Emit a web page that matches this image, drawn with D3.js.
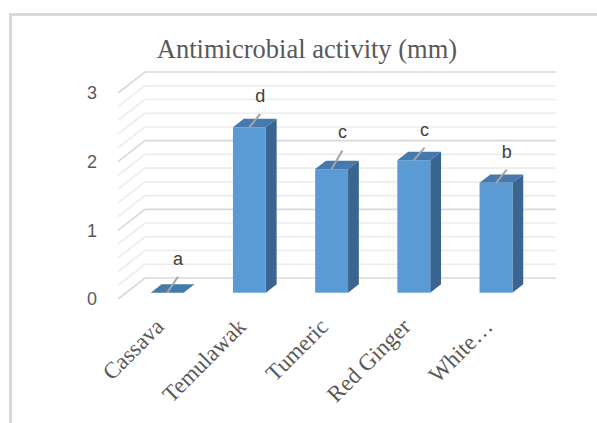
<!DOCTYPE html>
<html>
<head>
<meta charset="utf-8">
<script src="https://cdn.jsdelivr.net/npm/d3@7"></script>
<style>
  html, body { margin: 0; padding: 0; background: #fff; }
</style>
</head>
<body>
<div id="chart"></div>
<script>
// chart data
const categories = ["Cassava", "Temulawak", "Tumeric", "Red Ginger", "White…"];
const values = [0, 2.41, 1.8, 1.93, 1.6];
const errors = [0.11, 0.07, 0.15, 0.06, 0.07];
const letters = ["a", "d", "c", "c", "b"];
const yTicks = [0, 1, 2, 3];
const title = "Antimicrobial activity (mm)";

const width = 597, height = 423;
const depthX = -27, depthY = 21;   // offset from back wall to front plane
const barBack = 0.3, barFront = 0.7; // bar depth position (fraction)

let svg = d3.select("#chart").append("svg")
    .attr("width", width)
    .attr("height", height);

// outer frame (only left and top visible)
svg.append("path")
    .attr("d", "M10.5," + height + "V14.5H" + width)
    .attr("fill", "none")
    .attr("stroke", "#d9d9d9")
    .attr("stroke-width", 3);

svg.append("text")
    .attr("x", 307)
    .attr("y", 58)
    .attr("text-anchor", "middle")
    .style("font-family", "'Liberation Serif', 'Times New Roman', serif")
    .style("font-size", "26.5px")
    .style("fill", "#595959")
    .text(title);

// back wall scales
let x = d3.scaleBand()
    .domain(categories)
    .range([145, 556])
    .paddingInner(0.6)
    .paddingOuter(0.3);

let y = d3.scaleLinear()
    .domain([0, 3])
    .range([278, 72]);

function proj(px, py, f) {
    return [px + depthX * f, py + depthY * f];
}

// gridlines, every 0.2
let grid = d3.range(0, 3.001, 0.2);
let g = svg.append("g");
grid.forEach(function (v, i) {
    let major = i % 5 === 0;
    let col = major ? "#d9d9d9" : "#ececec";
    let yy = y(v);
    g.append("line")
        .attr("x1", 145).attr("x2", 556)
        .attr("y1", yy).attr("y2", yy)
        .attr("stroke", col).attr("stroke-width", 1.6);
    let p = proj(145, yy, 1);
    g.append("line")
        .attr("x1", p[0]).attr("y1", p[1])
        .attr("x2", 145).attr("y2", yy)
        .attr("stroke", col).attr("stroke-width", 1.6);
});

// y tick labels on the front plane
svg.selectAll(".ytick")
    .data(yTicks)
    .enter()
    .append("text")
    .attr("class", "ytick")
    .attr("x", 97)
    .attr("y", function (d) { return proj(0, y(d), 1)[1]; })
    .attr("dy", "0.35em")
    .attr("text-anchor", "end")
    .style("font-family", "'Liberation Sans', Arial, sans-serif")
    .style("font-size", "18px")
    .style("fill", "#595959")
    .text(function (d) { return d; });

// 3d bars
let bars = svg.selectAll(".bar")
    .data(categories)
    .enter()
    .append("g")
    .attr("class", "bar");

function poly(pts) {
    return "M" + pts.map(function (p) { return p[0] + "," + p[1]; }).join("L") + "Z";
}

bars.each(function (c, i) {
    let sel = d3.select(this);
    let x0 = x(c), x1 = x(c) + x.bandwidth();
    let yTop = y(values[i]), yBot = y(0);
    // side face
    sel.append("path")
        .attr("d", poly([proj(x1, yTop, barFront), proj(x1, yTop, barBack),
                         proj(x1, yBot, barBack), proj(x1, yBot, barFront)]))
        .attr("fill", "#3a6591");
    // top face
    sel.append("path")
        .attr("d", poly([proj(x0, yTop, barFront), proj(x0, yTop, barBack),
                         proj(x1, yTop, barBack), proj(x1, yTop, barFront)]))
        .attr("fill", "#4679ad");
    // front face
    if (values[i] > 0) {
        let a = proj(x0, yTop, barFront), b = proj(x1, yBot, barFront);
        sel.append("rect")
            .attr("x", a[0]).attr("y", a[1])
            .attr("width", b[0] - a[0]).attr("height", b[1] - a[1])
            .attr("fill", "#5b9bd5");
    }
    // error bar
    let cx = x(c) + x.bandwidth() / 2;
    let e0 = proj(cx, y(values[i]), barFront);
    let e1 = proj(cx, y(values[i] + errors[i]), barBack);
    sel.append("line")
        .attr("x1", e0[0]).attr("y1", e0[1])
        .attr("x2", e1[0]).attr("y2", e1[1])
        .attr("stroke", "#a6a6a6")
        .attr("stroke-width", 2);
    // significance letter
    sel.append("text")
        .attr("x", e1[0])
        .attr("y", e1[1] - 12)
        .attr("text-anchor", "middle")
        .style("font-family", "'Liberation Sans', Arial, sans-serif")
        .style("font-size", "18px")
        .style("fill", "#404040")
        .text(letters[i]);
});

// category labels, rotated
svg.selectAll(".xlab")
    .data(categories)
    .enter()
    .append("text")
    .attr("class", "xlab")
    .attr("transform", function (d) {
        let p = proj(x(d) + x.bandwidth() / 2, y(0), barFront);
        return "translate(" + (p[0] - 2) + "," + 328 + ") rotate(-45)";
    })
    .attr("text-anchor", "end")
    .style("font-family", "'Liberation Serif', 'Times New Roman', serif")
    .style("font-size", "23px")
    .style("fill", "#595959")
    .text(function (d) { return d; });
</script>
</body>
</html>
